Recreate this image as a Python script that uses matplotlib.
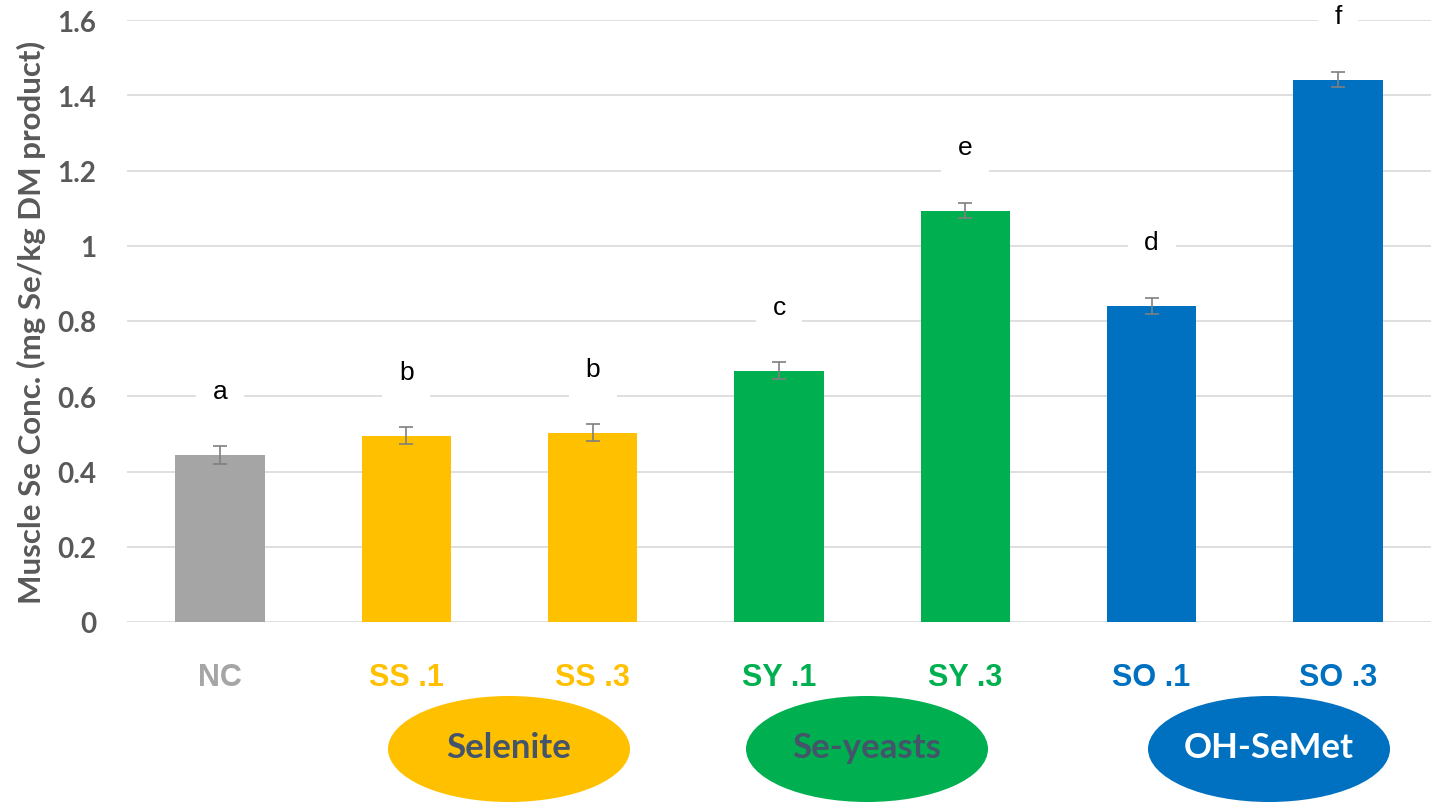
import matplotlib
matplotlib.use("Agg")
import matplotlib.pyplot as plt
from matplotlib.patches import Ellipse

categories = ["NC", "SS .1", "SS .3", "SY .1", "SY .3", "SO .1", "SO .3"]
values = [0.444, 0.495, 0.503, 0.668, 1.093, 0.840, 1.441]
errors = [0.024, 0.022, 0.022, 0.022, 0.020, 0.021, 0.020]
letters = ["a", "b", "b", "c", "e", "d", "f"]
colors = ["#A5A5A5", "#FFC000", "#FFC000", "#00B050", "#00B050", "#0070C0", "#0070C0"]
groups = ["Selenite", "Se-yeasts", "OH-SeMet"]
group_colors = ["#FFC000", "#00B050", "#0070C0"]
group_text_colors = ["#44546A", "#44546A", "#FFFFFF"]
yticks = [0, 0.2, 0.4, 0.6, 0.8, 1, 1.2, 1.4, 1.6]
ytick_labels = ["0", "0.2", "0.4", "0.6", "0.8", "1", "1.2", "1.4", "1.6"]

W, H = 1431, 803
fig = plt.figure(figsize=(W / 100, H / 100), dpi=100)
ax = fig.add_axes([127 / W, 1 - 623 / H, 1 - 127 / W, (623 - 21) / H])

x = list(range(len(categories)))
ax.bar(x, values, width=0.48, color=colors, zorder=2)
ax.errorbar(x, values, yerr=errors, fmt="none", ecolor="#7F7F7F", elinewidth=1.2,
            capsize=5, capthick=1.2, zorder=3)
for xi, v, lt in zip(x, values, letters):
    ax.text(xi, v + 0.17, lt, ha="center", va="center", fontsize=19,
            family="Liberation Sans", color="black", zorder=4,
            bbox=dict(facecolor="white", edgecolor="none", pad=12))

ax.set_xlim(-0.5, 6.5)
ax.set_ylim(0, 1.6)
ax.set_yticks(yticks)
ax.set_yticklabels(ytick_labels)
ax.set_xticks(x)
ax.set_xticklabels(categories)
for lbl, c in zip(ax.get_xticklabels(), colors):
    lbl.set_color(c)
    lbl.set_fontsize(22)
    lbl.set_fontweight("bold")
    lbl.set_family("Liberation Sans")
for lbl in ax.get_yticklabels():
    lbl.set_color("#595959")
    lbl.set_fontsize(20)
    lbl.set_fontweight("bold")
    lbl.set_family("Lato")
ax.tick_params(axis="x", length=0, pad=29)
ax.tick_params(axis="y", length=0, pad=22)
ax.grid(axis="y", color="#D9D9D9", linewidth=1.2, zorder=0)
ax.set_axisbelow(True)
for s in ax.spines.values():
    s.set_visible(False)
ax.set_ylabel("Muscle Se Conc. (mg Se/kg DM product)", fontsize=22.5, fontweight="bold",
              color="#595959", family="Lato", labelpad=8)

# group ellipses in pixel coordinates overlay
ov = fig.add_axes([0, 0, 1, 1], facecolor="none")
ov.set_xlim(0, W)
ov.set_ylim(H, 0)
ov.axis("off")
centers = [509, 867, 1269]
for cx, g, gc, tc in zip(centers, groups, group_colors, group_text_colors):
    ov.add_patch(Ellipse((cx, 750), 242, 106, facecolor=gc, edgecolor="none"))
    ov.text(cx, 748, g, ha="center", va="center", fontsize=25, fontweight="bold",
            color=tc, family="Lato")

fig.savefig("out.png", dpi=100)
